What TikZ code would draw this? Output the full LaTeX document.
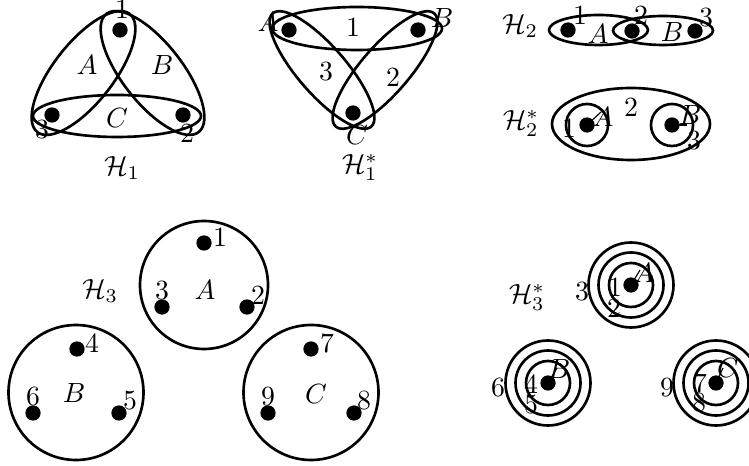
\documentclass[tikz,border=0pt]{standalone}
\begin{document}
\begin{tikzpicture}[x=0.36pt,y=0.36pt,
  edgeline/.style={line width=0.95pt},
  pinline/.style={line width=0.4pt},
  dot/.style={circle,fill=black,inner sep=0pt,minimum size=5.5pt},
  lab/.style={inner sep=0pt}]
\useasboundingbox (0,0) rectangle (749,-466);
% ---------------- H1
\node[dot] (a1) at (120,-30) {};
\node[dot] (a3) at (52,-115) {};
\node[dot] (a2) at (183,-115) {};
\draw[edgeline] (117,-116) ellipse [x radius=84, y radius=21];
\draw[edgeline, rotate around={52:(83.5,-73)}] (83.5,-73) ellipse [x radius=75, y radius=30];
\draw[edgeline, rotate around={128:(152.5,-73)}] (152.5,-73) ellipse [x radius=75, y radius=30];
\node[lab] (t1a1) at (122,-9) {1};
\node[lab] (t1a3) at (42,-130) {3};
\node[lab] (t1a2) at (187,-133) {2};
\node[lab] (t1A) at (87,-65) {$A$};
\node[lab] (t1B) at (162,-65) {$B$};
\node[lab] (t1C) at (117,-118) {$C$};
\node[lab] (t1H) at (122,-168) {$\mathcal{H}_1$};
% ---------------- H1*
\node[dot] (bA) at (289,-30) {};
\node[dot] (bB) at (418,-30) {};
\node[dot] (bC) at (353,-113) {};
\draw[edgeline] (357,-28.5) ellipse [x radius=85, y radius=21.5];
\draw[edgeline, rotate around={-49:(322,-70)}] (322,-70) ellipse [x radius=75, y radius=24];
\draw[edgeline, rotate around={49:(385,-70)}] (385,-70) ellipse [x radius=75, y radius=24];
\node[lab] (t2A) at (268,-22) {$A$};
\node[lab] (t2B) at (442,-18) {$B$};
\node[lab] (t2C) at (357,-135) {$C$};
\node[lab] (t21) at (353,-27) {1};
\node[lab] (t23) at (326,-72) {3};
\node[lab] (t22) at (393,-77) {2};
\node[lab] (t2H) at (360,-167) {$\mathcal{H}_1^*$};
% ---------------- H2
\node[dot] (c1) at (568,-30) {};
\node[dot] (c2) at (632,-31) {};
\node[dot] (c3) at (695,-31) {};
\draw[edgeline] (598.5,-30) ellipse [x radius=49.5, y radius=15];
\draw[edgeline] (663,-30.5) ellipse [x radius=50, y radius=14.5];
\node[lab] (t31) at (580,-15) {1};
\node[lab] (t32) at (641,-15) {2};
\node[lab] (t33) at (706,-18) {3};
\node[lab] (t3A) at (598,-34) {$A$};
\node[lab] (t3B) at (672,-32) {$B$};
\node[lab] (t3H) at (520,-26) {$\mathcal{H}_2$};
% ---------------- H2*
\node[dot] (eA) at (587,-125) {};
\node[dot] (eB) at (672,-125) {};
\draw[edgeline] (631,-124) ellipse [x radius=79, y radius=36];
\draw[edgeline] (eA) circle [radius=21];
\draw[edgeline] (eB) circle [radius=21];
\node[lab] (t41) at (569,-128) {1};
\node[lab] (t4A) at (603,-117) {$A$};
\node[lab] (t42) at (631,-107) {2};
\node[lab] (t4B) at (690,-115) {$B$};
\node[lab] (t43) at (694,-141) {3};
\node[lab] (t4H) at (521,-123) {$\mathcal{H}_2^*$};
\coordinate (p4A) at (601,-112);
\coordinate (p4B) at (687,-125);
\draw[pinline] (eA.center) -- (p4A);
\draw[pinline] (eB.center) -- (p4B);
% ---------------- H3
\node[dot] (f1) at (204,-243) {};
\node[dot] (f3) at (162,-307) {};
\node[dot] (f2) at (247,-307) {};
\node[dot] (f4) at (77,-349) {};
\node[dot] (f6) at (33,-413) {};
\node[dot] (f5) at (119,-413) {};
\node[dot] (f7) at (311,-349) {};
\node[dot] (f9) at (268,-413) {};
\node[dot] (f8) at (354,-413) {};
\draw[edgeline] (204,-285) circle [radius=64];
\draw[edgeline] (76,-392.5) circle [radius=67.5];
\draw[edgeline] (311,-392.5) circle [radius=67.5];
\node[lab] (t51) at (220,-237) {1};
\node[lab] (t53) at (162,-291) {3};
\node[lab] (t52) at (258,-295) {2};
\node[lab] (t5A) at (205,-290) {$A$};
\node[lab] (t5H) at (100,-291) {$\mathcal{H}_3$};
\node[lab] (t54) at (92,-343) {4};
\node[lab] (t56) at (33,-397) {6};
\node[lab] (t55) at (130,-401) {5};
\node[lab] (t5B) at (74,-393) {$B$};
\node[lab] (t57) at (327,-343) {7};
\node[lab] (t59) at (268,-397) {9};
\node[lab] (t58) at (364,-401) {8};
\node[lab] (t5C) at (316,-394) {$C$};
% ---------------- H3*
\node[dot] (gA) at (631,-285) {};
\node[dot] (gB) at (548,-383) {};
\node[dot] (gC) at (716,-383) {};
\foreach \n in {gA,gB,gC}{
  \draw[edgeline] (\n) circle [radius=22];
  \draw[edgeline] (\n) circle [radius=32.5];
  \draw[edgeline] (\n) circle [radius=42.5];
}
\node[lab] (t6H) at (527,-297) {$\mathcal{H}_3^*$};
\node[lab] (t61) at (615,-287) {1};
\node[lab] (t6A) at (644,-273) {$A$};
\node[lab] (t62) at (614,-308) {2};
\node[lab] (t63) at (582,-292) {3};
\node[lab] (t64) at (531,-384) {4};
\node[lab] (t6B) at (559,-369) {$B$};
\node[lab] (t65) at (531,-405) {5};
\node[lab] (t66) at (498,-388) {6};
\node[lab] (t67) at (700,-383) {7};
\node[lab] (t6C) at (728,-368) {$C$};
\node[lab] (t68) at (699,-403) {8};
\node[lab] (t69) at (667,-388) {9};
\coordinate (p6A) at (640,-270);
\coordinate (p6B) at (557,-368);
\coordinate (p6C) at (723,-368);
\draw[pinline] (gA.center) -- (p6A);
\draw[pinline] (gB.center) -- (p6B);
\draw[pinline] (gC.center) -- (p6C);
\end{tikzpicture}
\end{document}
